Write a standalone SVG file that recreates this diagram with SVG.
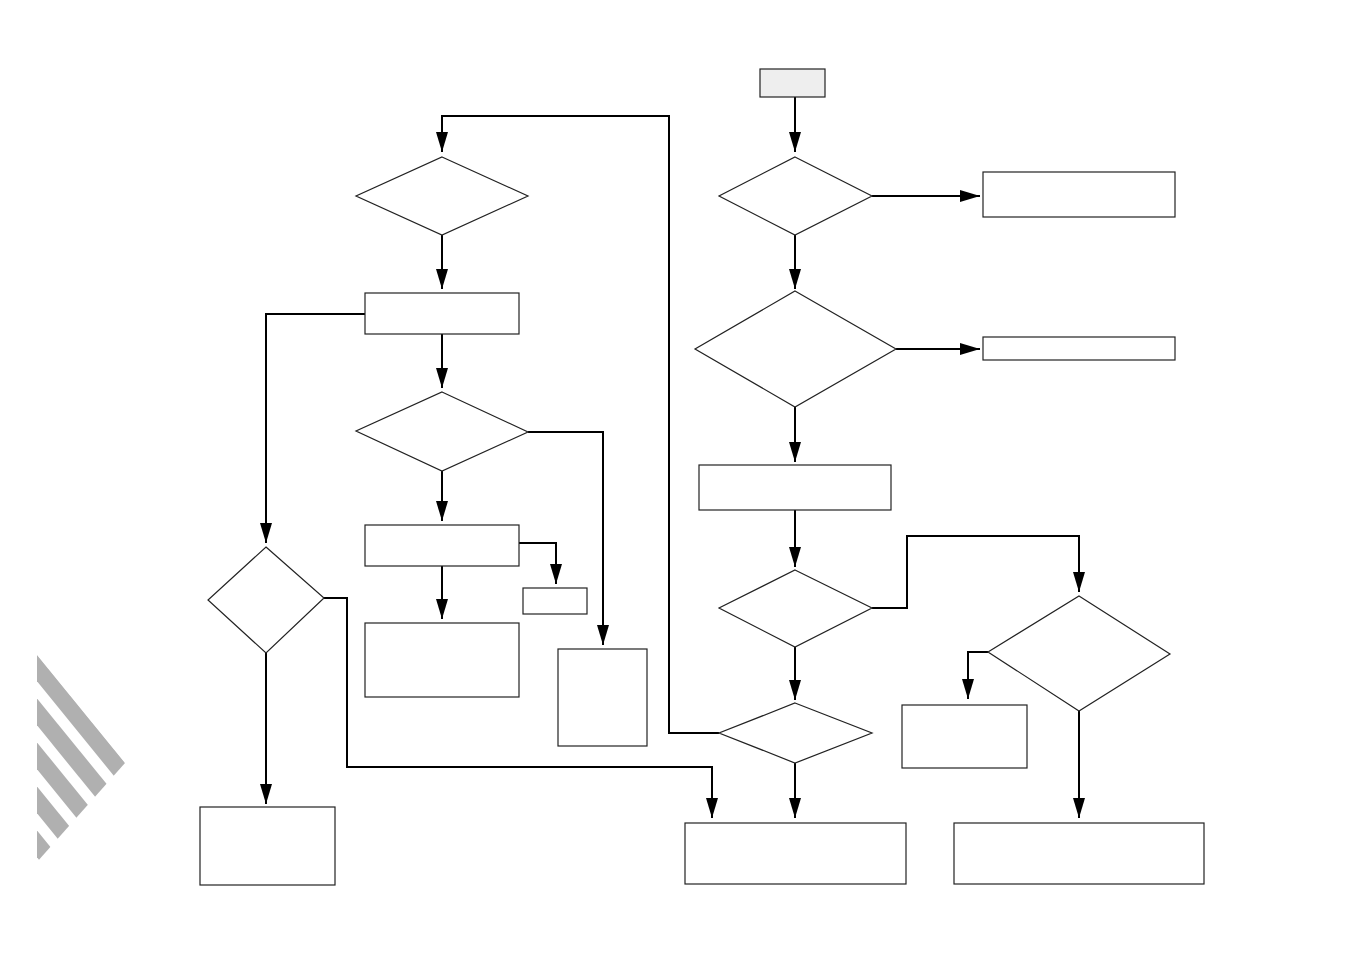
<svg xmlns="http://www.w3.org/2000/svg" width="1350" height="954" viewBox="0 0 1350 954">
<style>
.n{fill:#fff;stroke:#222;stroke-width:1.2}
.s{fill:#eeeeee;stroke:#222;stroke-width:1.2}
.c{fill:none;stroke:#000;stroke-width:2;marker-end:url(#a)}
.st{stroke:#b0b0b0;stroke-width:17}
</style>
<defs>
<marker id="a" viewBox="0 0 20 12" markerWidth="20" markerHeight="12" refX="20" refY="6" orient="auto" markerUnits="userSpaceOnUse">
<path d="M0,0 L20,6 L0,12 z" fill="#000"/>
</marker>
<clipPath id="tri"><polygon points="37,655 125,763 37,862"/></clipPath>
</defs>
<rect width="1350" height="954" fill="#fff"/>
<g id="stripes" clip-path="url(#tri)">
<line class="st" x1="20" y1="647" x2="160" y2="819"/>
<line class="st" x1="20" y1="691" x2="160" y2="863"/>
<line class="st" x1="20" y1="735" x2="160" y2="907"/>
<line class="st" x1="20" y1="779" x2="160" y2="951"/>
<line class="st" x1="20" y1="823" x2="160" y2="995"/>
</g>
<g id="connectors">
<path class="c" d="M795,97 V152"/>
<path class="c" d="M872,196 H980"/>
<path class="c" d="M795,235 V289"/>
<path class="c" d="M896,349 H980"/>
<path class="c" d="M795,407 V462"/>
<path class="c" d="M795,510 V567"/>
<path class="c" d="M872,608 H907 V536 H1079 V592"/>
<path class="c" d="M988,652 H968 V699"/>
<path class="c" d="M1079,711 V818"/>
<path class="c" d="M795,647 V700"/>
<path class="c" d="M795,763 V818"/>
<path class="c" d="M719,733 H669 V116 H442 V152"/>
<path class="c" d="M442,235 V289"/>
<path class="c" d="M442,334 V388"/>
<path class="c" d="M528,432 H603 V645"/>
<path class="c" d="M442,471 V521"/>
<path class="c" d="M519,543 H556 V584"/>
<path class="c" d="M442,566 V619"/>
<path class="c" d="M365,314 H266 V543"/>
<path class="c" d="M324,598 H347 V767 H712 V818"/>
<path class="c" d="M266,653 V804"/>
</g>
<g id="start"><rect class="s" x="760" y="69" width="65" height="28"/></g>
<g id="d1"><polygon class="n" points="795,157 872,196 795,235 719,196"/></g>
<g id="r1"><rect class="n" x="983" y="172" width="192" height="45"/></g>
<g id="d2"><polygon class="n" points="795,291 896,349 795,407 695,349"/></g>
<g id="r2"><rect class="n" x="983" y="337" width="192" height="23"/></g>
<g id="r3"><rect class="n" x="699" y="465" width="192" height="45"/></g>
<g id="d3"><polygon class="n" points="795,570 872,608 795,647 719,608"/></g>
<g id="d4"><polygon class="n" points="1079,596 1170,654 1079,711 988,652"/></g>
<g id="r5"><rect class="n" x="902" y="705" width="125" height="63"/></g>
<g id="r6"><rect class="n" x="954" y="823" width="250" height="61"/></g>
<g id="d5"><polygon class="n" points="795,703 872,733 795,763 719,733"/></g>
<g id="r7"><rect class="n" x="685" y="823" width="221" height="61"/></g>
<g id="d6"><polygon class="n" points="442,157 528,196 442,235 356,196"/></g>
<g id="r8"><rect class="n" x="365" y="293" width="154" height="41"/></g>
<g id="d7"><polygon class="n" points="442,392 528,432 442,471 356,431"/></g>
<g id="r9"><rect class="n" x="558" y="649" width="89" height="97"/></g>
<g id="r10"><rect class="n" x="365" y="525" width="154" height="41"/></g>
<g id="r11"><rect class="n" x="523" y="588" width="64" height="26"/></g>
<g id="r12"><rect class="n" x="365" y="623" width="154" height="74"/></g>
<g id="d8"><polygon class="n" points="266,547 324,598 266,653 208,600"/></g>
<g id="r13"><rect class="n" x="200" y="807" width="135" height="78"/></g>
</svg>
